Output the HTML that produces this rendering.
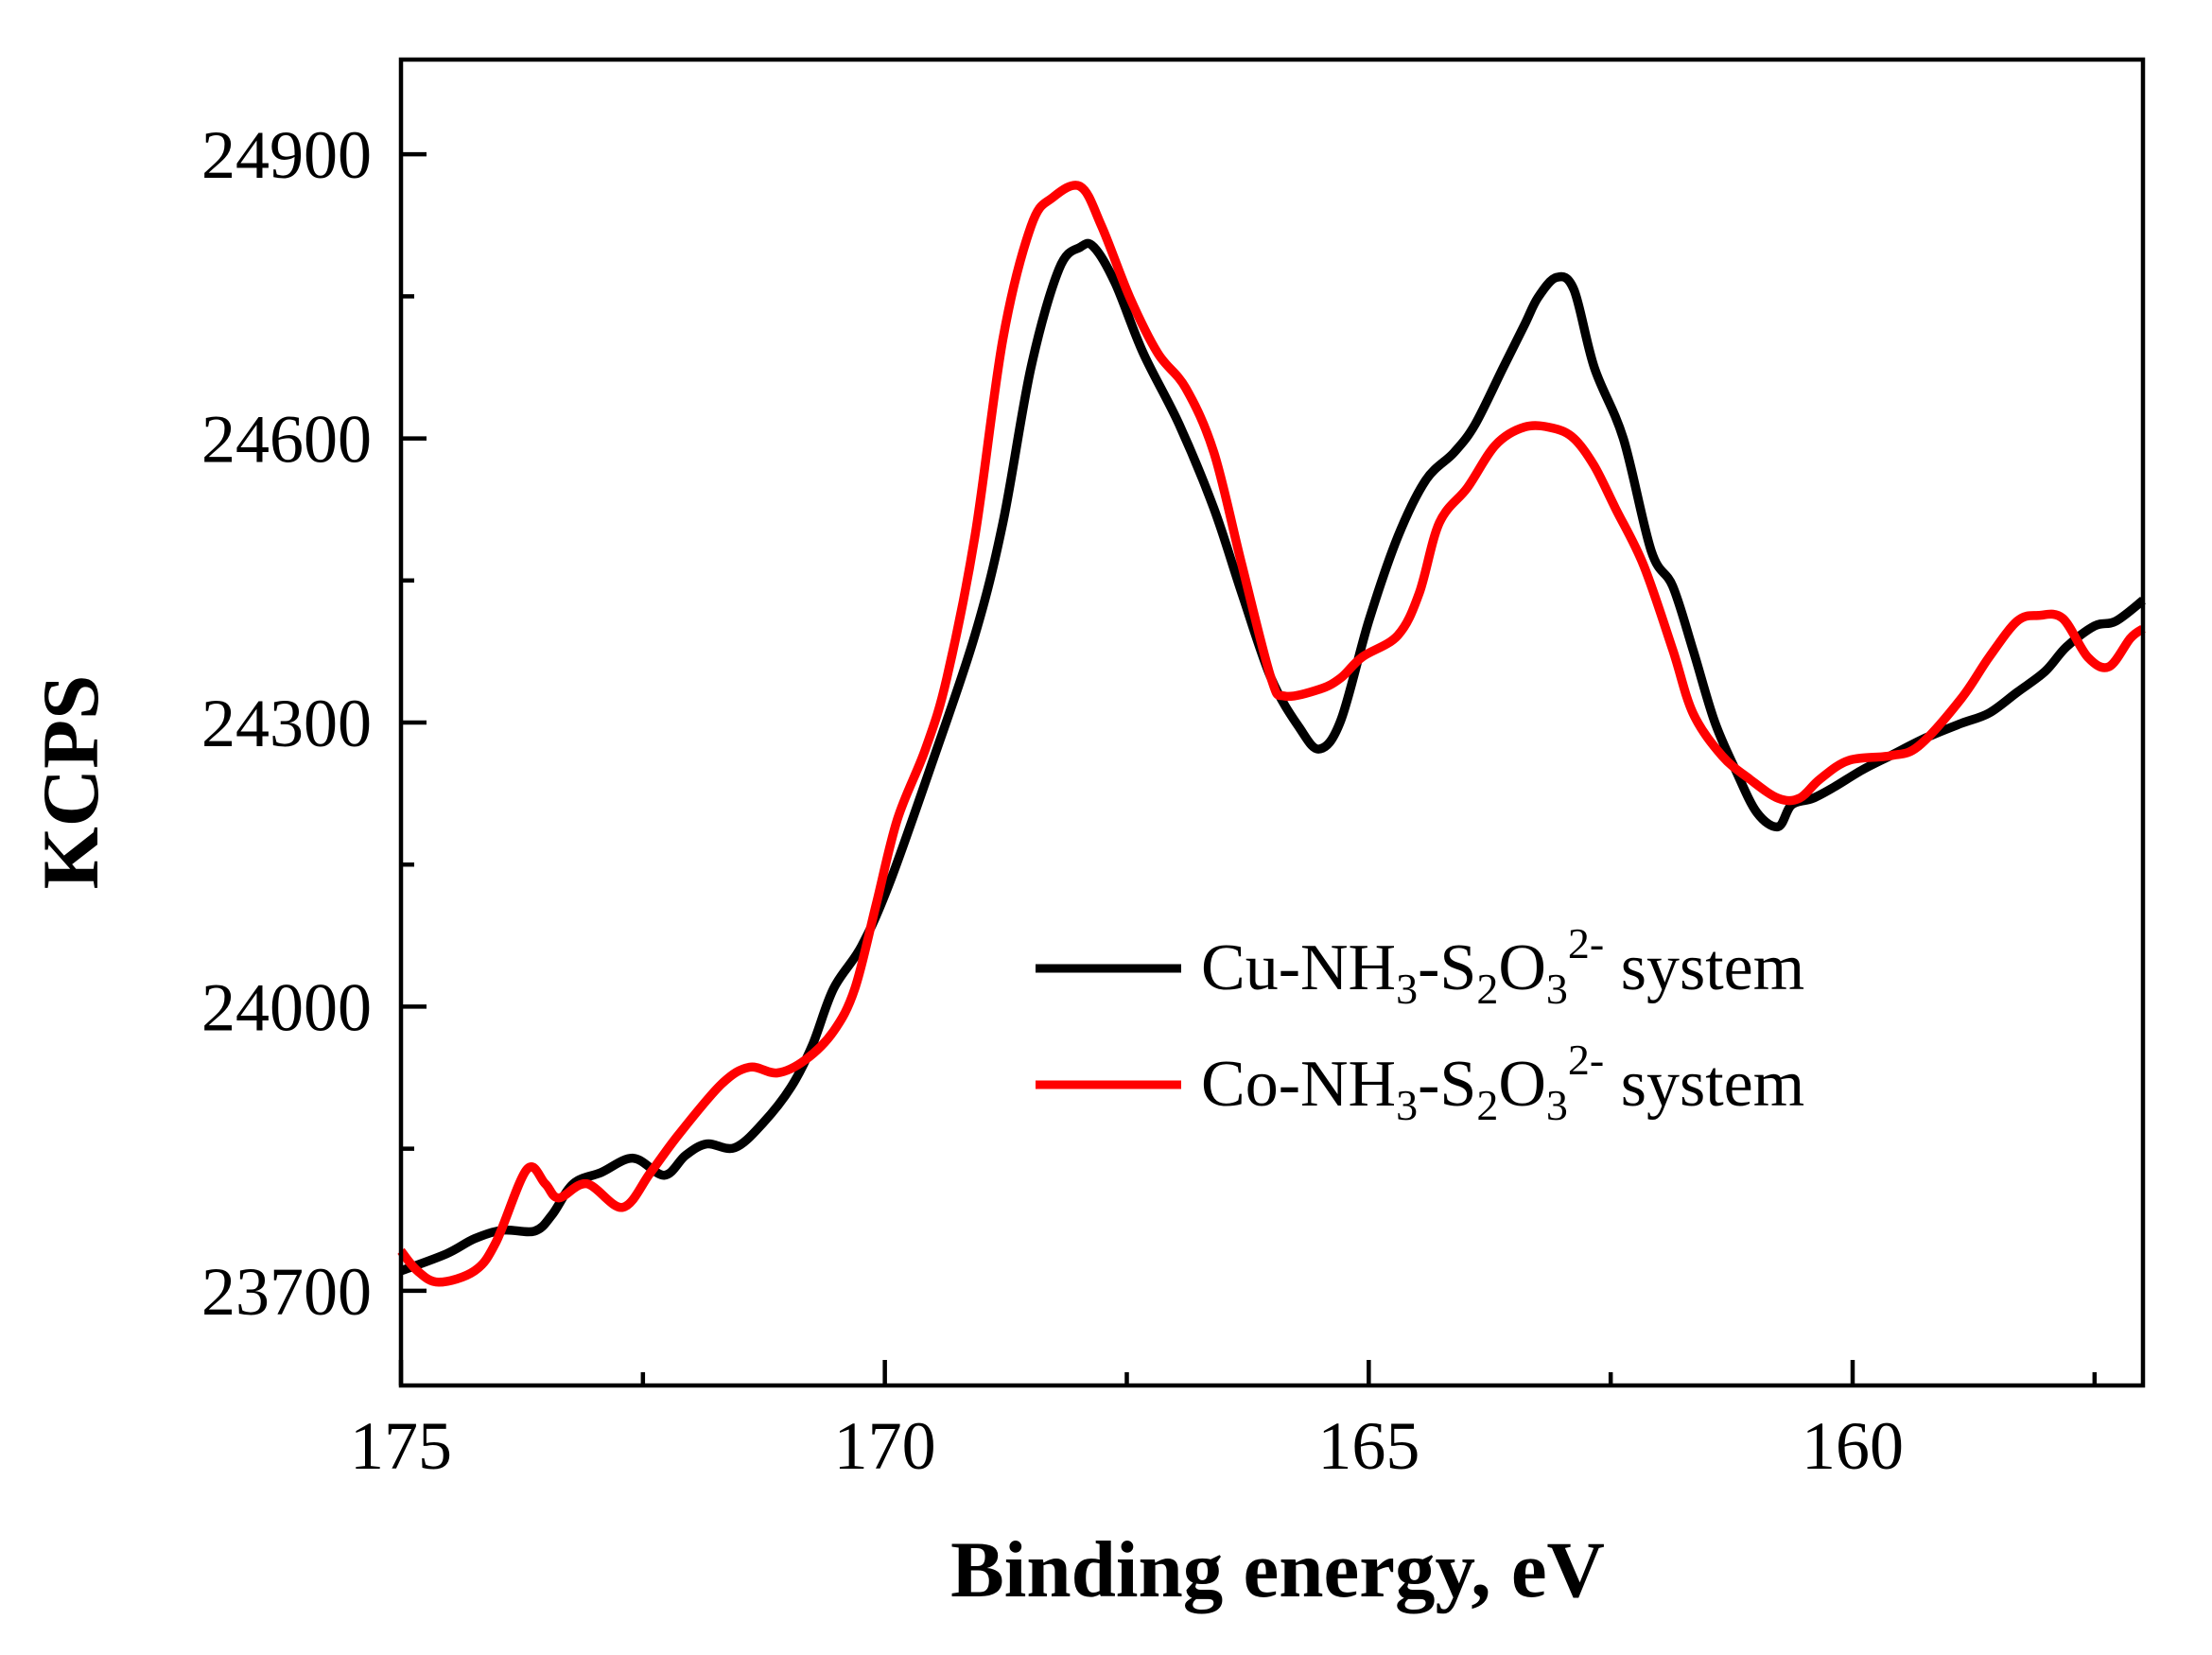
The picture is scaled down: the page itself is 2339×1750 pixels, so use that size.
<!DOCTYPE html>
<html><head><meta charset="utf-8"><style>
html,body{margin:0;padding:0;background:#fff}
svg{display:block}
text{font-family:"Liberation Serif",serif;fill:#000}
</style></head><body>
<svg id="chart" width="2339" height="1750" viewBox="0 0 2339 1750" xmlns="http://www.w3.org/2000/svg">
<g id="curves"></g>
<g id="axes"></g>
<text x="1351" y="1688" text-anchor="middle" font-size="85" font-weight="bold">Binding energy, eV</text>
<text transform="translate(103,827) rotate(-90)" text-anchor="middle" font-size="85" font-weight="bold">KCPS</text>
<g>
<line x1="1095" y1="1024" x2="1249" y2="1024" stroke="#000" stroke-width="9"/>
<text x="1270" y="1046" font-size="70">Cu-NH<tspan font-size="46" dy="15">3</tspan><tspan dy="-15">-S</tspan><tspan font-size="46" dy="15">2</tspan><tspan dy="-15">O</tspan><tspan font-size="46" dy="15">3</tspan><tspan font-size="46" dy="-48">2-</tspan><tspan dy="33"> system</tspan></text>
<line x1="1095" y1="1147" x2="1249" y2="1147" stroke="#f00" stroke-width="9"/>
<text x="1270" y="1169" font-size="70">Co-NH<tspan font-size="46" dy="15">3</tspan><tspan dy="-15">-S</tspan><tspan font-size="46" dy="15">2</tspan><tspan dy="-15">O</tspan><tspan font-size="46" dy="15">3</tspan><tspan font-size="46" dy="-48">2-</tspan><tspan dy="33"> system</tspan></text>
</g>
</svg>
<script>
const cuX=[175.00,174.53,174.24,173.95,173.62,173.44,173.22,172.93,172.60,172.28,172.06,171.84,171.55,171.26,170.97,170.75,170.53,170.24,169.95,169.51,169.07,168.78,168.49,168.20,167.98,167.84,167.62,167.33,166.96,166.60,166.31,166.01,165.72,165.51,165.29,165.00,164.70,164.41,164.12,163.90,163.61,163.39,163.25,163.06,162.88,162.67,162.37,162.08,161.86,161.65,161.43,161.21,160.99,160.77,160.63,160.41,160.19,159.90,159.61,159.24,158.88,158.59,158.30,158.01,157.79,157.50,157.28,157.00];
const cuY=[23721,23739,23755,23764,23763,23780,23813,23825,23840,23822,23843,23855,23851,23877,23915,23959,24019,24064,24131,24258,24392,24511,24675,24779,24802,24802,24764,24690,24615,24526,24436,24347,24295,24272,24302,24407,24496,24556,24585,24615,24675,24720,24749,24770,24757,24675,24600,24481,24444,24377,24302,24250,24205,24190,24213,24220,24232,24250,24265,24284,24299,24310,24332,24354,24380,24402,24407,24429];
const coX=[175.00,174.83,174.61,174.24,174.02,173.70,173.51,173.37,173.08,172.71,172.42,172.13,171.69,171.40,171.11,170.82,170.53,170.31,170.09,169.87,169.58,169.36,169.07,168.78,168.49,168.27,167.98,167.76,167.47,167.18,166.89,166.60,166.31,166.01,165.87,165.51,165.29,165.07,164.70,164.48,164.27,163.98,163.69,163.39,163.10,162.88,162.67,162.45,162.16,161.86,161.65,161.35,161.06,160.77,160.55,160.34,160.04,159.61,159.32,158.88,158.59,158.30,158.08,157.83,157.57,157.35,157.13,157.00];
const coY=[23742,23721,23709,23721,23751,23828,23813,23798,23813,23788,23825,23865,23918,23936,23930,23944,23974,24019,24108,24198,24272,24347,24496,24705,24824,24854,24866,24824,24749,24690,24653,24585,24466,24347,24328,24335,24347,24369,24392,24436,24511,24548,24593,24612,24611,24600,24571,24526,24466,24377,24310,24265,24240,24220,24220,24240,24260,24265,24275,24325,24369,24407,24413,24410,24369,24359,24389,24399];
const xTicks=[175,170,165,160];
const yTicks=[23700,24000,24300,24600,24900];

const L=424,R=2266,T=63,B=1465,X0=175,X1=157,Y0=23600,Y1=25000;
const sx=v=>L+(X0-v)/(X0-X1)*(R-L);
const sy=v=>B-(v-Y0)/(Y1-Y0)*(B-T);
const NS='http://www.w3.org/2000/svg';
function mk(tag,attrs,parent){const e=document.createElementNS(NS,tag);for(const k in attrs)e.setAttribute(k,attrs[k]);parent.appendChild(e);return e;}
function path(xs,ys){
  const p=xs.map((x,i)=>[sx(x),sy(ys[i])]);
  let d='M'+p[0][0].toFixed(1)+','+p[0][1].toFixed(1);
  for(let i=0;i<p.length-1;i++){
    const a=p[Math.max(0,i-1)],b=p[i],c=p[i+1],e=p[Math.min(p.length-1,i+2)];
    const c1=[b[0]+(c[0]-a[0])/6,b[1]+(c[1]-a[1])/6],c2=[c[0]-(e[0]-b[0])/6,c[1]-(e[1]-b[1])/6];
    d+=`C${c1[0].toFixed(1)},${c1[1].toFixed(1)} ${c2[0].toFixed(1)},${c2[1].toFixed(1)} ${c[0].toFixed(1)},${c[1].toFixed(1)}`;
  }
  return d;
}
const cg=document.getElementById('curves');
const s1=mk('path',{d:path(cuX,cuY),fill:'none',stroke:'#000','stroke-width':9.5,'stroke-linejoin':'round'},cg);


const s2=mk('path',{d:path(coX,coY),fill:'none',stroke:'#f00','stroke-width':9.5,'stroke-linejoin':'round'},cg);



const ag=document.getElementById('axes');
const fr=mk('rect',{x:L,y:T,width:R-L,height:B-T,fill:'none',stroke:'#000','stroke-width':4.5},ag);


for(let v=175;v>=157;v-=2.5){
  const major=xTicks.includes(v);
  const t=mk('line',{x1:sx(v),x2:sx(v),y1:B,y2:B-(major?27:14),stroke:'#000','stroke-width':4.5},ag);
  
  
}
xTicks.forEach(v=>{
  const t=mk('text',{x:sx(v),y:1553,'text-anchor':'middle','font-size':72},ag);
  t.textContent=v;
  
  
});
for(let v=23700;v<=25000;v+=150){
  const major=yTicks.includes(v);
  const t=mk('line',{x1:L,x2:L+(major?27:14),y1:sy(v),y2:sy(v),stroke:'#000','stroke-width':4.5},ag);
  
  
}
yTicks.forEach(v=>{
  const t=mk('text',{x:393,y:sy(v)+25,'text-anchor':'end','font-size':72},ag);
  t.textContent=v;
  
  
});
</script>
</body></html>
